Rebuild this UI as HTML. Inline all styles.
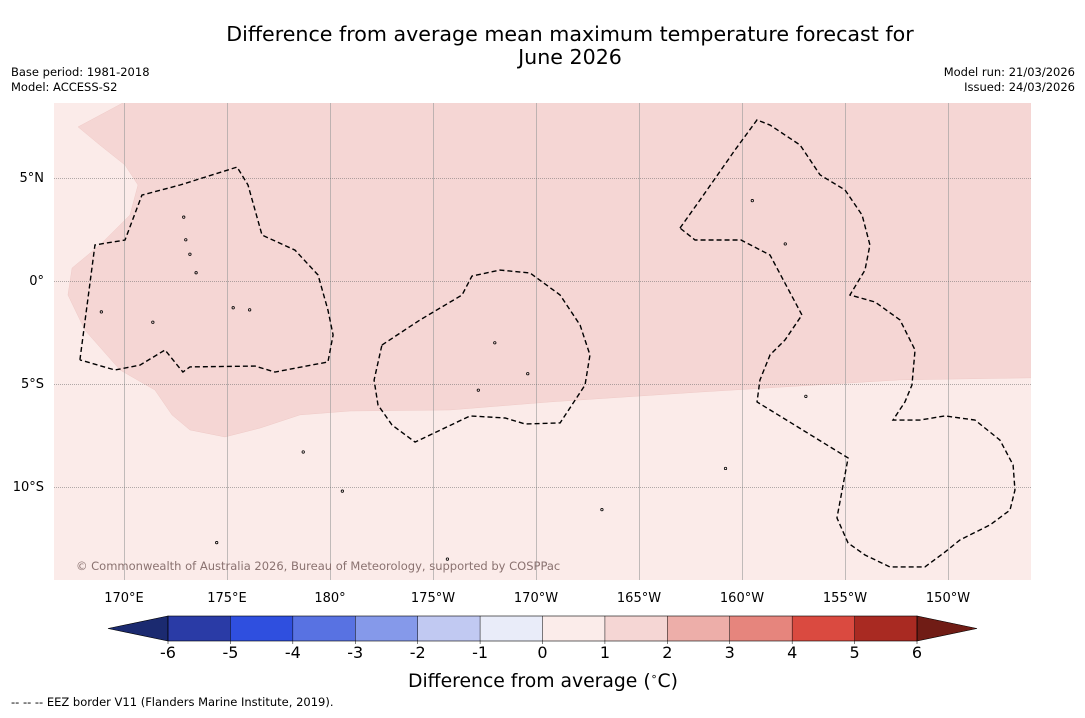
<!DOCTYPE html>
<html><head><meta charset="utf-8"><style>
body{margin:0;background:#fff;width:1085px;height:713px;overflow:hidden;font-family:"Liberation Sans","DejaVu Sans",sans-serif}
svg text{font-family:"DejaVu Sans","Liberation Sans",sans-serif}
</style></head><body>
<svg id="c" width="1085" height="713" xmlns="http://www.w3.org/2000/svg">
<text x="570" y="41" font-size="20.6" text-anchor="middle">Difference from average mean maximum temperature forecast for</text>
<text x="570" y="64" font-size="20.6" text-anchor="middle">June 2026</text>
<text x="11" y="76" font-size="11.5">Base period: 1981-2018</text>
<text x="11" y="91" font-size="11.5">Model: ACCESS-S2</text>
<text x="1075" y="76" font-size="11.5" text-anchor="end">Model run: 21/03/2026</text>
<text x="1075" y="91" font-size="11.5" text-anchor="end">Issued: 24/03/2026</text>
<g id="map"></g>
<g id="cb"></g>
<text x="543" y="687" font-size="18.8" text-anchor="middle">Difference from average (<tspan font-size="11" dy="-7">∘</tspan><tspan dy="7">C)</tspan></text>
<text x="11" y="706" font-size="11.5">--  --  -- EEZ border V11 (Flanders Marine Institute, 2019).</text>
</svg>
<script>
const lonTicks=[170,175,180,185,190,195,200,205,210];
const lonLabels=["170°E","175°E","180°","175°W","170°W","165°W","160°W","155°W","150°W"];
const latTicks=[5,0,-5,-10];
const latLabels=["5°N","0°","5°S","10°S"];
const cbLevels=[-6,-5,-4,-3,-2,-1,0,1,2,3,4,5,6];
const cbColors=["#2a3ba6","#2f4fdf","#5872e2","#8599ea","#c1c9f2","#e9ecf9","#fbecea","#f5d6d4","#edaea9","#e6857d","#da4a40","#a92a22"];
const cbLow="#1b2a70",cbHigh="#701c15";
const shadeLon=[170.05,167.77,168.83,170.05,170.68,170.29,168.83,167.48,167.28,168.1,169.81,171.5,172.33,173.2,174.9,176.6,178.54,180.97,185.83,190.68,197.96,207.67,214.1,214.1];
const shadeLat=[8.7,7.48,6.6,5.63,4.66,3.2,1.75,0.63,-0.68,-2.38,-4.32,-5.29,-6.5,-7.23,-7.57,-7.14,-6.5,-6.31,-6.26,-5.87,-5.39,-4.8,-4.7,8.7];
const eez1Lon=[167.86,168.59,170.05,170.87,172.72,175.49,176.02,176.7,178.3,179.42,179.9,180.15,179.9,177.33,176.36,173.2,172.86,171.99,170.78,169.56,167.86];
const eez1Lat=[-3.83,1.75,1.99,4.17,4.66,5.53,4.66,2.23,1.5,0.29,-1.41,-2.62,-3.93,-4.42,-4.13,-4.17,-4.42,-3.35,-4.08,-4.32,-3.83];
const eez2Lon=[182.52,184.37,186.41,186.89,188.25,189.71,191.17,192.14,192.62,192.38,191.17,189.47,188.5,186.8,184.13,183.01,182.33,182.14,182.52];
const eez2Lat=[-3.11,-1.89,-0.68,0.24,0.53,0.39,-0.68,-2.14,-3.59,-5.05,-6.89,-6.94,-6.65,-6.55,-7.82,-6.99,-6.02,-4.81,-3.11];
const eez3Lon=[196.99,197.96,199.66,200.73,201.36,202.82,203.79,205.0,205.83,206.21,205.97,205.24,206.46,207.67,208.4,208.25,207.91,207.33,208.64,209.85,211.31,212.52,213.16,213.25,213.01,212.04,210.58,209.85,208.88,207.18,205.97,205.15,204.61,205.15,200.73,200.87,201.36,202.09,202.91,201.36,199.95,198.93,197.72,196.99];
const eez3Lat=[2.57,3.93,6.36,7.82,7.57,6.6,5.15,4.42,3.2,1.75,0.53,-0.68,-1.02,-1.89,-3.35,-5.05,-5.87,-6.75,-6.75,-6.55,-6.75,-7.72,-8.93,-10.15,-11.12,-11.84,-12.57,-13.16,-13.88,-13.88,-13.3,-12.72,-11.5,-8.59,-5.87,-4.81,-3.59,-2.86,-1.65,1.26,1.99,1.99,1.99,2.57];
const islLon=[172.9,173.0,173.2,173.5,175.3,176.1,178.7,187.2,188.0,189.6,200.5,202.1,199.2,203.1,171.4,180.6,185.7,193.2,174.5,168.9];
const islLat=[3.1,2.0,1.3,0.4,-1.3,-1.4,-8.3,-5.3,-3.0,-4.5,3.9,1.8,-9.1,-5.6,-2.0,-10.2,-13.5,-11.1,-12.7,-1.5];
const NS="http://www.w3.org/2000/svg";
const X0=54,X1=1031,Y0=103,Y1=580;
const px=lon=>124+(lon-170)*20.6;
const py=lat=>281-lat*20.6;
function mk(tag,attrs,parent){const e=document.createElementNS(NS,tag);for(const k in attrs)e.setAttribute(k,attrs[k]);parent.appendChild(e);return e;}
const map=document.getElementById('map');
const defs=mk('defs',{},map);
const cp=mk('clipPath',{id:'clip'},defs);
mk('rect',{x:X0,y:Y0,width:X1-X0,height:Y1-Y0},cp);
const bg=mk('rect',{x:X0,y:Y0,width:X1-X0,height:Y1-Y0,fill:'#fbebe9'},map);


const g=mk('g',{'clip-path':'url(#clip)'},map);
const sh=mk('polygon',{points:shadeLon.map((l,i)=>px(l)+','+py(shadeLat[i])).join(' '),fill:'#f5d6d4',stroke:'#efcac7','stroke-width':0.5},g);


lonTicks.forEach((l,i)=>{
 const xx=Math.round(px(l))+0.5;
 const ln=mk('line',{x1:xx,x2:xx,y1:Y0,y2:Y1,stroke:'#999','stroke-width':0.6},g);
 
 
 const t=mk('text',{x:px(l),y:602,'font-size':13,'text-anchor':'middle'},map);t.textContent=lonLabels[i];
 
 
});
latTicks.forEach((l,i)=>{
 const yy=Math.round(py(l))+0.5;
 const ln=mk('line',{x1:X0,x2:X1,y1:yy,y2:yy,stroke:'#666','stroke-width':0.6,'stroke-dasharray':'1,1'},g);
 
 
 const t=mk('text',{x:44,y:py(l)+4,'font-size':13,'text-anchor':'end'},map);t.textContent=latLabels[i];
 
 
});
[[eez1Lon,eez1Lat],[eez2Lon,eez2Lat],[eez3Lon,eez3Lat]].forEach(([a,b])=>{
 const p=mk('polyline',{points:a.map((l,i)=>px(l)+','+py(b[i])).join(' '),fill:'none',stroke:'#000','stroke-width':1.4,'stroke-dasharray':'5,3'},g);
 
 
});
islLon.forEach((l,i)=>{
 const c=mk('circle',{cx:px(l),cy:py(islLat[i]),r:1.2,fill:'none',stroke:'#000','stroke-width':0.8},g);
 
 
});
const cr=mk('text',{x:76,y:570,'font-size':11.5,fill:'#8a7270'},map);cr.textContent='© Commonwealth of Australia 2026, Bureau of Meteorology, supported by COSPPac';


const cb=document.getElementById('cb');
const C0=168,C1=917,CY=616,CH=25;
const cx=v=>C0+(v-cbLevels[0])/(cbLevels[cbLevels.length-1]-cbLevels[0])*(C1-C0);
const lt=mk('polygon',{points:`${C0},${CY} ${C0},${CY+CH} 108,${CY+CH/2}`,fill:cbLow,stroke:'#000','stroke-width':0.6},cb);


const rt=mk('polygon',{points:`${C1},${CY} ${C1},${CY+CH} 977,${CY+CH/2}`,fill:cbHigh,stroke:'#000','stroke-width':0.6},cb);


cbColors.forEach((col,i)=>{
 const r=mk('rect',{x:cx(cbLevels[i]),y:CY,width:cx(cbLevels[i+1])-cx(cbLevels[i]),height:CH,fill:col},cb);
 
 
});
mk('rect',{x:C0,y:CY,width:C1-C0,height:CH,fill:'none',stroke:'#000','stroke-width':0.6},cb);
cbLevels.forEach(v=>{
 mk('line',{x1:cx(v),x2:cx(v),y1:CY,y2:CY+CH+3,stroke:'#000','stroke-width':0.5},cb);
 const t=mk('text',{x:cx(v),y:658,'font-size':16,'text-anchor':'middle'},cb);t.textContent=String(v);
 
 
});
</script>
</body></html>
